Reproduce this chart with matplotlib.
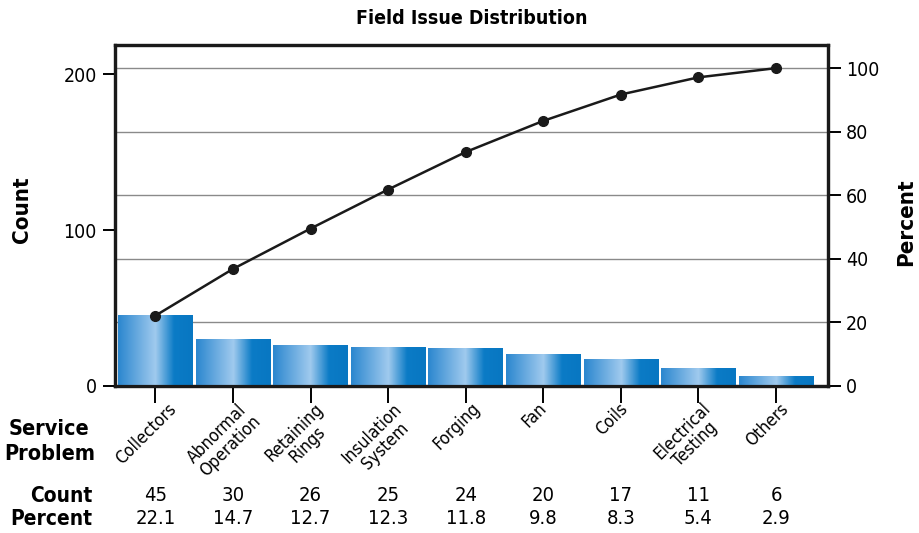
import numpy as np
import matplotlib
matplotlib.use("Agg")
import matplotlib.pyplot as plt
from matplotlib import font_manager as fm
from matplotlib.colors import LinearSegmentedColormap
import matplotlib.transforms as mtransforms

# pick a condensed face if one is around
fonts = fm.fontManager.ttflist
names = {f.name for f in fonts}
stretch = "normal"
if "Liberation Sans Narrow" in names:
    family = "Liberation Sans Narrow"
elif any(f.name == "DejaVu Sans" and "Condensed" in f.fname for f in fonts):
    family = "DejaVu Sans"
    stretch = "condensed"
elif any("Condensed" in f.name for f in fonts):
    family = [f.name for f in fonts if "Condensed" in f.name][0]
else:
    family = "Roboto"
plt.rcParams['font.family'] = [family, 'DejaVu Sans']
plt.rcParams['font.stretch'] = stretch

problems = ["Collectors", "Abnormal\nOperation", "Retaining\nRings", "Insulation\nSystem",
            "Forging", "Fan", "Coils", "Electrical\nTesting", "Others"]
counts = [45, 30, 26, 25, 24, 20, 17, 11, 6]
percents = [22.1, 14.7, 12.7, 12.3, 11.8, 9.8, 8.3, 5.4, 2.9]
cum_percent = [22.1, 36.8, 49.5, 61.8, 73.6, 83.4, 91.7, 97.1, 100.0]

total = sum(counts)
count_max = 219

fig = plt.figure(figsize=(9.2, 5.33), dpi=100)
ax = fig.add_axes([0.125, 0.276, 0.775, 0.64])
ax2 = ax.twinx()

x = np.arange(len(counts))
ax2.set_ylim(0, count_max / total * 100)

# gridlines follow the percent axis
for p in [20, 40, 60, 80, 100]:
    ax2.axhline(p, color="#8a8a8a", lw=1.0, zorder=0)

# bars with a horizontal gradient
cmap = LinearSegmentedColormap.from_list(
    "bar", [(0.0, "#2b87cf"), (0.5, "#a0caee"), (0.75, "#0b7bc6"), (1.0, "#0877c2")])
grad = np.linspace(0, 1, 200).reshape(1, -1)
bars = ax.bar(x, counts, width=0.96, color="none", edgecolor="none", zorder=2)
for b in bars:
    x0, y0 = b.get_x(), b.get_y()
    ax.imshow(grad, extent=[x0, x0 + b.get_width(), y0, y0 + b.get_height()],
              aspect="auto", cmap=cmap, zorder=2, interpolation="bilinear")
ax.set_xlim(-0.52, 8.67)
ax.set_ylim(0, count_max)

ax.set_zorder(ax2.get_zorder() + 1)
ax.patch.set_visible(False)

# cumulative line, percent converted to the count scale
ax.plot(x, np.array(cum_percent) * total / 100, color="#1a1a1a", lw=1.8,
        marker="o", ms=7, zorder=5)

for a in (ax, ax2):
    for s in a.spines.values():
        s.set_linewidth(2.3)
        s.set_color("#1a1a1a")

ax.set_yticks([0, 100, 200])
ax.tick_params(axis="y", direction="out", length=9, width=1.4, labelsize=14, pad=4)
ax2.set_yticks([0, 20, 40, 60, 80, 100])
ax2.tick_params(axis="y", direction="out", length=9, width=1.4, labelsize=14, pad=4)
ax.set_xticks(x)
ax.set_xticklabels([])
ax.tick_params(axis="x", direction="out", length=12, width=1.4)

ax.set_title("Field Issue Distribution", fontsize=14, fontweight="bold", pad=15)
fig.text(22 / 920, 1 - 210 / 533, "Count", rotation=90, ha="center", va="center",
         fontsize=16, fontweight="bold")
fig.text(906 / 920, 1 - 222 / 533, "Percent", rotation=90, ha="center", va="center",
         fontsize=16, fontweight="bold")

trans = mtransforms.blended_transform_factory(ax.transData, ax.transAxes)
for xi, name in zip(x, problems):
    ax.text(xi - 0.12, -0.04, name, transform=trans, rotation=45, ha="center", va="top",
            fontsize=12.5, multialignment="center", linespacing=1.0)

for xi, c, p in zip(x, counts, percents):
    ax.text(xi, -0.322, str(c), transform=trans, ha="center", va="center", fontsize=14.5)
    ax.text(xi, -0.39, f"{p:.1f}", transform=trans, ha="center", va="center", fontsize=14.5)

fig.text(0.103, 0.171, "Service\nProblem", ha="right", va="center", fontsize=15.5,
         fontweight="bold", multialignment="center", linespacing=1.3)
fig.text(0.100, 0.069, "Count", ha="right", va="center", fontsize=15, fontweight="bold")
fig.text(0.100, 0.026, "Percent", ha="right", va="center", fontsize=15, fontweight="bold")

fig.savefig("out.png", dpi=100)
